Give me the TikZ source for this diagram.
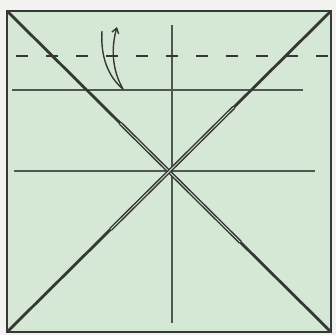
\documentclass[tikz,border=0pt]{standalone}
\usepackage{tikz}
\usetikzlibrary{arrows.meta,calc}
\definecolor{paperbg}{RGB}{242,243,240}
\definecolor{sheetgreen}{RGB}{213,231,213}
\definecolor{edgedark}{RGB}{55,55,55}
\definecolor{creasedark}{RGB}{78,88,78}
\tikzset{
  crease/.style={draw=creasedark,line width=1.1pt},
  diag/.style={draw=edgedark,line width=2.8pt},
  diagdouble/.style={draw=edgedark,line width=1.5pt,double=sheetgreen,double distance=.8pt},
  valley/.style={draw=edgedark,line width=1.8pt,dash pattern=on 12pt off 18pt,dash phase=-1pt},
  foldarrow/.style={draw=edgedark,line width=1.4pt}
}
\begin{document}
\begin{tikzpicture}[x=1pt,y=-1pt]
    \fill[paperbg] (0,0) rectangle (336,335);
    \useasboundingbox (0,0) rectangle (336,335);
    % sheet corners
    \coordinate (tl) at (7,11); \coordinate (tr) at (331,11);
    \coordinate (bl) at (7,332); \coordinate (br) at (331,332);
    \fill[sheetgreen] (tl) rectangle (br);
    % creases
    \draw[crease] (172,25)--(172,323);
    \draw[crease] (14,171)--(315,171);
    \draw[crease] (12,90)--(303,90);
    \draw[diag] (tl)--(br);
    \draw[diag] (tr)--(bl);
    \draw[diagdouble] ($(tl)!.35!(br)$)--($(tl)!.72!(br)$);
    \draw[diagdouble] ($(tr)!.3!(bl)$)--($(tr)!.68!(bl)$);
    \draw[valley] (15,56)--(330,56);
    % fold arrow
    \coordinate (ftop) at (102,31); \coordinate (fbot) at (123,89); \coordinate (ftip) at (117,27);
    \draw[foldarrow] (ftop) .. controls (100,62) and (112,80) .. (fbot);
    \draw[foldarrow,-{Straight Barb[length=5pt,width=7pt]}] (fbot) .. controls (112,70) and (111,48) .. (ftip);
    \draw[draw=edgedark,line width=2.4pt] (tl) rectangle (br);
  \end{tikzpicture}
\end{document}
